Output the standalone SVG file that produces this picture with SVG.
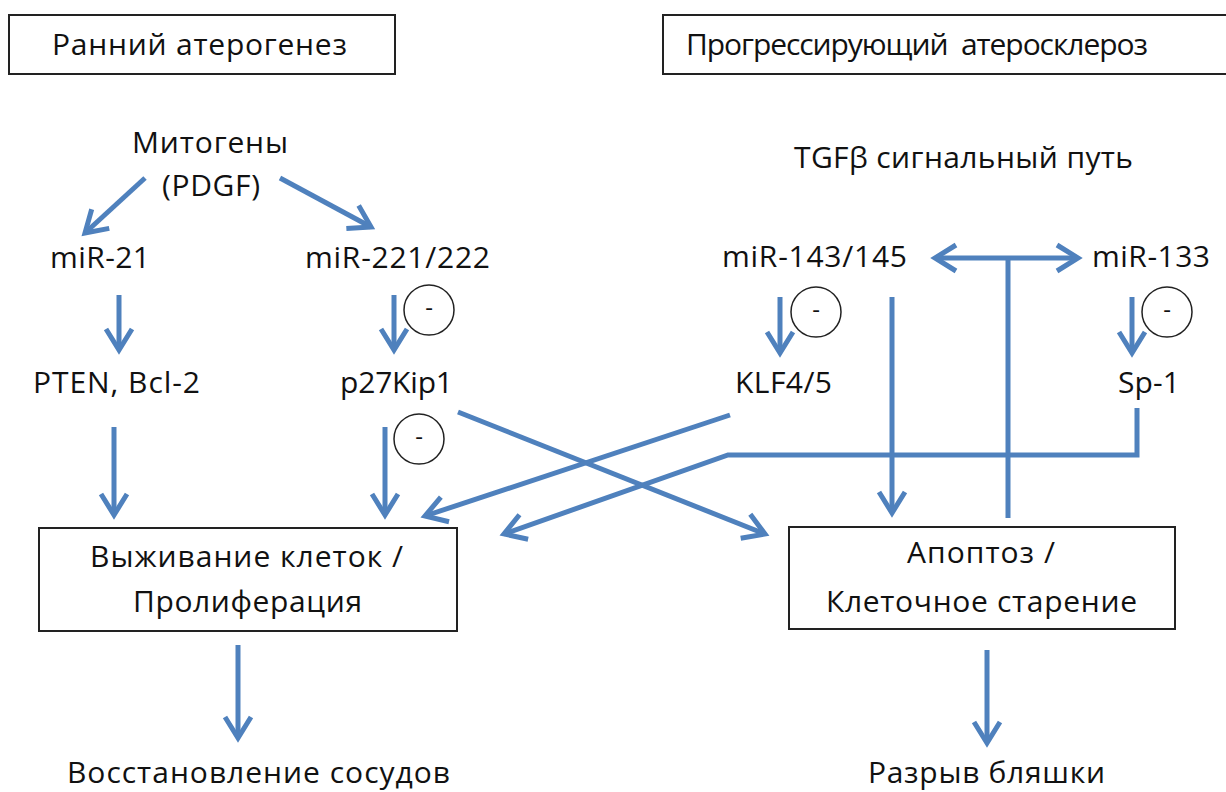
<svg xmlns="http://www.w3.org/2000/svg" width="1226" height="792" viewBox="0 0 1226 792">
<style>
.t{font-family:"Open Sans","DejaVu Sans","Liberation Sans",sans-serif;font-size:30px;fill:#111;}
.box{fill:#fff;stroke:#222;stroke-width:2;}
.c{stroke:#4F81BD;stroke-width:5;fill:none;}
.neg{fill:none;stroke:#222;stroke-width:1.5;}
.m{font-family:"Open Sans","Liberation Sans",sans-serif;font-size:24px;fill:#111;text-anchor:middle;}
</style>
<defs>
<marker id="ah" markerUnits="userSpaceOnUse" viewBox="-30 -20 40 40" markerWidth="40" markerHeight="40" refX="0" refY="0" orient="auto-start-reverse">
<path d="M-21,-13 L0,0 L-21,13" fill="none" stroke="#4F81BD" stroke-width="5"/>
</marker>
</defs>
<rect width="1226" height="792" fill="#fff"/>

<g id="connectors">
<line class="c" x1="145" y1="178" x2="85" y2="233" marker-end="url(#ah)"/>
<line class="c" x1="280" y1="178" x2="371" y2="227" marker-end="url(#ah)"/>
<line class="c" x1="119" y1="295" x2="119" y2="350" marker-end="url(#ah)"/>
<line class="c" x1="394" y1="295" x2="394" y2="350" marker-end="url(#ah)"/>
<line class="c" x1="114" y1="427" x2="114" y2="515" marker-end="url(#ah)"/>
<line class="c" x1="385" y1="427" x2="385" y2="515" marker-end="url(#ah)"/>
<line class="c" x1="458" y1="412" x2="765" y2="534" marker-end="url(#ah)"/>
<line class="c" x1="730" y1="415" x2="425" y2="516" marker-end="url(#ah)"/>
<polyline class="c" points="1137,408 1137,455 728,455 504,534" marker-end="url(#ah)"/>
<line class="c" x1="892" y1="297" x2="892" y2="513" marker-end="url(#ah)"/>
<line class="c" x1="780" y1="297" x2="780" y2="353" marker-end="url(#ah)"/>
<line class="c" x1="1132" y1="297" x2="1132" y2="353" marker-end="url(#ah)"/>
<line class="c" x1="935" y1="258" x2="1078" y2="258" marker-start="url(#ah)" marker-end="url(#ah)"/>
<line class="c" x1="1008" y1="258" x2="1008" y2="518"/>
<line class="c" x1="238" y1="645" x2="238" y2="738" marker-end="url(#ah)"/>
<line class="c" x1="987" y1="650" x2="987" y2="743" marker-end="url(#ah)"/>
</g>

<g id="neg1"><circle class="neg" cx="429" cy="310" r="25"/><text class="m" x="429" y="316">-</text></g>
<g id="neg2"><circle class="neg" cx="419" cy="439" r="25"/><text class="m" x="419" y="445">-</text></g>
<g id="neg3"><circle class="neg" cx="816" cy="312" r="25"/><text class="m" x="816" y="318">-</text></g>
<g id="neg4"><circle class="neg" cx="1167" cy="312" r="25"/><text class="m" x="1167" y="318">-</text></g>

<g id="early"><rect class="box" x="9" y="15" width="386" height="59"/><text class="t" x="52" y="55" textLength="295">Ранний атерогенез</text></g>
<g id="progressive"><rect class="box" x="663" y="15" width="600" height="59"/><text class="t" x="686" y="55" textLength="462" xml:space="preserve">Прогрессирующий  атеросклероз</text></g>
<g id="mitogens"><text class="t" x="132" y="153" textLength="156">Митогены</text><text class="t" x="162" y="196" textLength="98">(PDGF)</text></g>
<g id="mir21"><text class="t" x="50" y="268" textLength="100">miR-21</text></g>
<g id="mir221"><text class="t" x="305" y="268" textLength="185">miR-221/222</text></g>
<g id="tgfb"><text class="t" x="794" y="168" textLength="339">TGFβ сигнальный путь</text></g>
<g id="mir143"><text class="t" x="722" y="267" textLength="185">miR-143/145</text></g>
<g id="mir133"><text class="t" x="1092" y="267" textLength="118">miR-133</text></g>
<g id="pten"><text class="t" x="33" y="393" textLength="167">PTEN, Bcl-2</text></g>
<g id="p27"><text class="t" x="340" y="393" textLength="113">p27Kip1</text></g>
<g id="klf"><text class="t" x="735" y="393" textLength="97">KLF4/5</text></g>
<g id="sp1"><text class="t" x="1118" y="393" textLength="62">Sp-1</text></g>
<g id="survival"><rect class="box" x="39" y="528" width="418" height="103"/><text class="t" x="90" y="567" textLength="313">Выживание клеток /</text><text class="t" x="133" y="612" textLength="229">Пролиферация</text></g>
<g id="apoptosis"><rect class="box" x="789" y="527" width="386" height="102"/><text class="t" x="907" y="563" textLength="148">Апоптоз /</text><text class="t" x="826" y="612" textLength="311">Клеточное старение</text></g>
<g id="repair"><text class="t" x="67" y="783" textLength="383">Восстановление сосудов</text></g>
<g id="rupture"><text class="t" x="868" y="783" textLength="237">Разрыв бляшки</text></g>
</svg>
